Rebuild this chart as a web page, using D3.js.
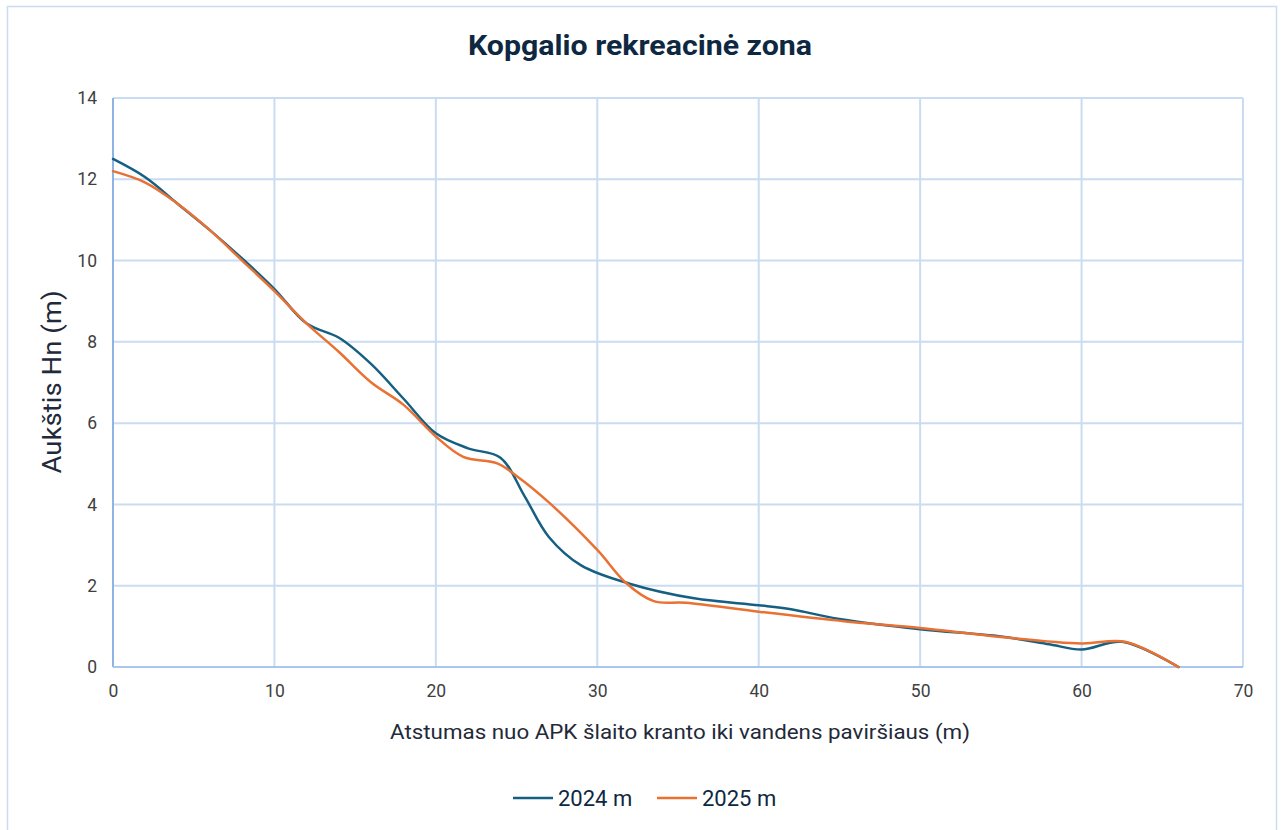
<!DOCTYPE html>
<html>
<head>
<meta charset="utf-8">
<script src="https://cdn.jsdelivr.net/npm/d3@7"></script>
<style>
  html, body { margin: 0; padding: 0; background: #ffffff; }
  svg { display: block; }
  text { font-family: Roboto, "Noto Sans", sans-serif; }
</style>
</head>
<body>
<svg id="chart" width="1281" height="830"></svg>
<script>
const chartTitle = "Kopgalio rekreacinė zona";
const xAxisTitle = "Atstumas nuo APK šlaito kranto iki vandens paviršiaus (m)";
const yAxisTitle = "Aukštis Hn (m)";
const seriesNames = ["2024 m", "2025 m"];
const seriesColors = ["#156082", "#E97132"];

const x2024 = [0, 2, 4, 6, 8, 10, 12, 14, 16, 18, 20, 22, 24, 25.5, 27, 29, 32, 36, 40, 42, 45, 50, 55, 58, 60, 62.5, 66];
const y2024 = [12.5, 12.05, 11.4, 10.75, 10.05, 9.3, 8.45, 8.1, 7.45, 6.6, 5.75, 5.38, 5.15, 4.2, 3.2, 2.5, 2.05, 1.69, 1.52, 1.42, 1.18, 0.93, 0.75, 0.56, 0.43, 0.62, 0];

const x2025 = [0, 2, 4, 6, 8, 10, 12, 14, 16, 18, 20, 21.7, 23.8, 25, 27, 30, 31.8, 33.5, 35.5, 40, 45.4, 50, 55, 60, 62.7, 66];
const y2025 = [12.2, 11.92, 11.4, 10.75, 10.0, 9.25, 8.45, 7.75, 7.0, 6.45, 5.67, 5.17, 5.01, 4.7, 4.05, 2.88, 2.06, 1.62, 1.58, 1.36, 1.12, 0.96, 0.74, 0.58, 0.62, 0];

const xTicks = [0, 10, 20, 30, 40, 50, 60, 70];
const yTicks = [0, 2, 4, 6, 8, 10, 12, 14];

const svg = d3.select("#chart");
const plot = { left: 113, right: 1243, top: 98, bottom: 667 };

// outer chart border
svg.append("rect")
  .attr("x", 7.5).attr("y", 6.5)
  .attr("width", 1269).attr("height", 840)
  .attr("fill", "#fff")
  .attr("stroke", "#c9dcf2").attr("stroke-width", 1.5);

const x = d3.scaleLinear().domain([0, 70]).range([plot.left, plot.right]);
const y = d3.scaleLinear().domain([0, 14]).range([plot.bottom, plot.top]);

// grid
const grid = svg.append("g");
grid.selectAll("line.v").data(xTicks).join("line")
  .attr("x1", d => x(d)).attr("x2", d => x(d))
  .attr("y1", plot.top).attr("y2", plot.bottom)
  .attr("stroke", "#c9dcf2").attr("stroke-width", 2);
grid.selectAll("line.h").data(yTicks).join("line")
  .attr("x1", plot.left).attr("x2", plot.right)
  .attr("y1", d => y(d)).attr("y2", d => y(d))
  .attr("stroke", "#c9dcf2").attr("stroke-width", 2);

// axis lines
svg.append("line").attr("x1", plot.left).attr("x2", plot.left)
  .attr("y1", plot.top).attr("y2", plot.bottom)
  .attr("stroke", "#8fb4e3").attr("stroke-width", 2);
svg.append("line").attr("x1", plot.left).attr("x2", plot.right)
  .attr("y1", plot.bottom).attr("y2", plot.bottom)
  .attr("stroke", "#a9c6ec").attr("stroke-width", 2);

// axes (labels only)
const xAxis = d3.axisBottom(x).tickValues(xTicks).tickSize(0).tickPadding(18).tickFormat(d3.format("d"));
const gx = svg.append("g").attr("transform", `translate(0,${plot.bottom})`).call(xAxis);
gx.select(".domain").remove();
gx.selectAll("text").attr("font-size", 17.5).attr("fill", "#404040").attr("font-family", "Roboto, sans-serif");

const yAxis = d3.axisLeft(y).tickValues(yTicks).tickSize(0).tickPadding(16).tickFormat(d3.format("d"));
const gy = svg.append("g").attr("transform", `translate(${plot.left},0)`).call(yAxis);
gy.select(".domain").remove();
gy.selectAll("text").attr("font-size", 17.5).attr("fill", "#404040").attr("font-family", "Roboto, sans-serif");

// lines
const line = d3.line().x(d => x(d[0])).y(d => y(d[1])).curve(d3.curveCatmullRom.alpha(0.5));
const series = [
  d3.zip(x2024, y2024),
  d3.zip(x2025, y2025)
];
svg.append("g").selectAll("path").data(series).join("path")
  .attr("d", line)
  .attr("fill", "none")
  .attr("stroke", (d, i) => seriesColors[i])
  .attr("stroke-width", 2.5)
  .attr("stroke-linejoin", "round")
  .attr("stroke-linecap", "round");

// title
svg.append("text")
  .attr("x", 640).attr("y", 55)
  .attr("text-anchor", "middle")
  .attr("font-size", 28).attr("font-weight", 700)
  .attr("textLength", 344).attr("lengthAdjust", "spacingAndGlyphs")
  .attr("fill", "#0E2841")
  .text(chartTitle);

// axis titles
svg.append("text")
  .attr("x", 680).attr("y", 739)
  .attr("text-anchor", "middle")
  .attr("font-size", 21)
  .attr("textLength", 580).attr("lengthAdjust", "spacingAndGlyphs")
  .attr("fill", "#1f2a3a")
  .text(xAxisTitle);

svg.append("text")
  .attr("transform", `translate(61,382) rotate(-90)`)
  .attr("text-anchor", "middle")
  .attr("font-size", 25)
  .attr("textLength", 183).attr("lengthAdjust", "spacingAndGlyphs")
  .attr("fill", "#1f2a3a")
  .text(yAxisTitle);

// legend
const legend = svg.append("g");
const legendItems = [
  { name: seriesNames[0], color: seriesColors[0], x0: 513 },
  { name: seriesNames[1], color: seriesColors[1], x0: 657 }
];
legendItems.forEach(it => {
  legend.append("line")
    .attr("x1", it.x0).attr("x2", it.x0 + 40)
    .attr("y1", 798).attr("y2", 798)
    .attr("stroke", it.color).attr("stroke-width", 2.5);
  legend.append("text")
    .attr("x", it.x0 + 45).attr("y", 806)
    .attr("font-size", 22)
    .attr("fill", "#0E2841")
    .text(it.name);
});
</script>
</body>
</html>
